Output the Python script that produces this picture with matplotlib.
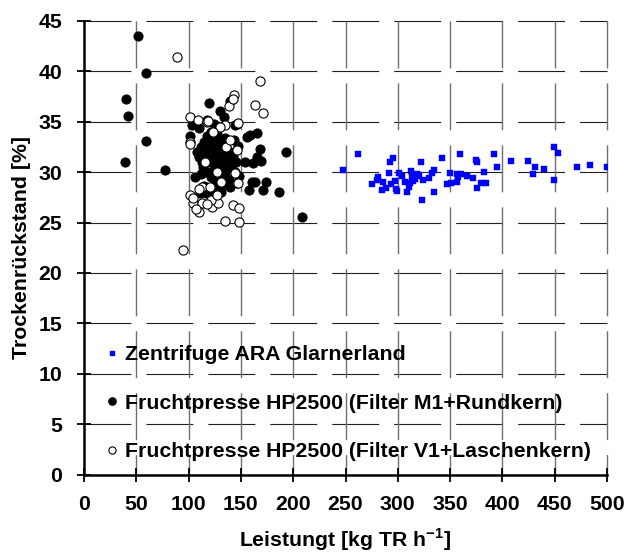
import matplotlib
matplotlib.use("Agg")
import matplotlib.pyplot as plt
from matplotlib.lines import Line2D

plt.rcParams['font.family'] = ['Liberation Sans', 'DejaVu Sans']
plt.rcParams['font.weight'] = 'bold'
plt.rcParams['mathtext.fontset'] = 'custom'
plt.rcParams['mathtext.rm'] = 'Liberation Sans:bold'
plt.rcParams['mathtext.bf'] = 'Liberation Sans:bold'
plt.rcParams['lines.scale_dashes'] = False

# ---- data ----
zentrifuge_x = [247.9, 262.3, 275.6, 280.7, 280.4, 285.2, 286.2, 288.7, 291.9, 292.5,
                295.7, 293.5, 297.3, 298.0, 299.6, 300.9, 303.7, 306.6, 308.5, 310.4,
                311.7, 312.9, 313.6, 314.8, 316.4, 318.0, 319.0, 320.0, 322.5, 323.4,
                324.4, 329.8, 332.7, 334.9, 334.9, 342.6, 346.7, 349.9, 350.9, 356.3,
                356.9, 357.9, 359.5, 360.1, 366.5, 372.2, 374.5, 376.0, 376.0, 379.5,
                382.4, 384.0, 392.3, 395.1, 408.5, 424.8, 429.3, 431.5, 439.8, 449.6,
                449.6, 453.5, 471.0, 483.7, 499.7]
zentrifuge_y = [30.19, 31.78, 28.87, 29.53, 29.26, 28.20, 29.07, 28.47, 29.96, 31.05,
                31.45, 28.80, 29.13, 28.37, 28.10, 29.92, 29.59, 29.03, 28.03, 28.53,
                28.97, 30.12, 29.53, 29.13, 29.36, 29.86, 29.59, 29.76, 31.05, 27.21,
                29.20, 29.46, 29.92, 30.26, 28.00, 31.45, 28.87, 29.96, 28.97, 29.86,
                29.07, 29.53, 31.85, 29.79, 29.59, 29.46, 31.18, 30.98, 28.47, 28.97,
                29.99, 28.97, 31.85, 30.49, 31.15, 31.15, 29.79, 30.49, 30.36, 32.50,
                29.26, 31.95, 30.49, 30.75, 30.49]

m1_x = [51.6, 59.6, 39.9, 41.7, 59.0, 39.2, 77.4,
        103.0, 101.3, 106.0, 111.0,
        119.5, 130.0, 134.2, 124.0, 144.4, 139.6, 146.0,
        155.5, 158.7, 165.0, 168.3, 165.0, 153.9, 161.9, 160.3, 163.5, 158.0, 171.4,
        174.0, 186.7, 193.1, 139.6, 208.0, 169.0, 116.6,
        108, 110, 112, 113, 114, 115, 116, 117, 118, 118, 119, 120, 121, 121, 122,
        123, 124, 124, 125, 126, 126, 127, 128, 128, 129, 130, 131, 132, 132, 133,
        134, 135, 135, 136, 137, 138, 139, 140, 141, 142, 143, 144, 145, 147, 148,
        112, 115, 120, 125, 128, 131, 134, 110, 118, 126]
m1_y = [43.5, 39.8, 37.3, 35.6, 33.1, 31.0, 30.2,
        34.7, 33.6, 29.5, 27.9,
        36.9, 36.1, 35.5, 34.8, 34.7, 37.1, 34.8,
        33.5, 33.7, 33.85, 32.3, 31.5, 31.0, 30.9, 29.0, 29.0, 28.2, 28.2,
        29.0, 28.0, 32.0, 28.5, 25.55, 31.1, 27.9,
        32.0, 31.5, 32.5, 31.0, 30.5, 33.0, 32.0, 31.2, 30.0, 33.6, 32.4, 31.0, 29.5, 34.0, 32.8,
        31.5, 30.2, 33.2, 32.0, 30.8, 29.0, 33.8, 31.6, 32.6, 30.0, 31.0, 33.0, 29.5, 32.2, 30.6,
        31.8, 29.8, 33.4, 32.4, 30.4, 31.2, 29.2, 32.0, 30.6, 31.6, 33.2, 30.0, 31.0, 32.6, 29.6,
        29.8, 28.6, 28.2, 27.6, 28.6, 28.0, 28.8, 34.4, 35.2, 34.6]

v1_x = [88.9, 168.0, 163.5, 170.8, 143.0, 139.0, 142.7,
        101.3, 109.3, 117.3, 134.8, 147.5, 130.0, 123.6,
        101.3, 101.3, 146.0, 144.4, 126.8, 146.6, 147.5,
        101.3, 104.5, 112.5, 110.2, 112.5, 110.0, 122.0, 128.4, 120.5, 121.1, 126.8,
        142.7, 148.5, 134.8, 148.5, 94.3, 118.8, 136.0, 116.0, 131.0, 140.0, 104.0,
        107.0, 118.0]
v1_y = [41.4, 39.0, 36.7, 35.9, 37.7, 36.6, 37.3,
        35.5, 35.2, 35.0, 34.7, 34.9, 34.5, 34.0,
        33.0, 32.8, 32.2, 29.9, 30.0, 28.9, 28.9,
        27.7, 26.9, 26.9, 26.05, 28.5, 28.3, 26.5, 26.9, 28.5, 27.2, 27.7,
        26.7, 26.4, 25.2, 25.05, 22.3, 35.1, 32.5, 31.0, 29.0, 33.2, 27.4,
        26.3, 26.8]

series_labels = ['Zentrifuge ARA Glarnerland',
                 'Fruchtpresse HP2500 (Filter M1+Rundkern)',
                 'Fruchtpresse HP2500 (Filter V1+Laschenkern)']
x_ticks = list(range(0, 501, 50))
y_ticks = list(range(0, 46, 5))

FS = 15.3

# ---- figure ----
W, H = 626, 558
L, R, T, B = 84, 607, 21, 474.5
fig = plt.figure(figsize=(W/100, H/100), dpi=100)
ax = fig.add_axes([L/W, 1 - B/H, (R-L)/W, (B-T)/H])
ax.set_xlim(0, 500)
ax.set_ylim(0, 45)

# dashed grid (horizontal from the left, vertical from the top)
for yv in y_ticks[1:]:
    ax.plot([0, 500], [yv, yv], color='#202020', lw=0.8,
            linestyle=(0, (33.8, 10.8)), zorder=1, clip_on=False)
for xv in x_ticks[1:]:
    ax.plot([xv, xv], [45, 0], color='#707070', lw=1.0,
            linestyle=(0, (33.8, 10.8)), zorder=1, clip_on=False)

ax.plot(zentrifuge_x, zentrifuge_y, linestyle='none', marker='s', ms=3.8,
        mfc='#0000ff', mec='#0000ff', mew=0.3, zorder=3)
ax.plot(m1_x, m1_y, linestyle='none', marker='o', ms=6.6,
        mfc='black', mec='black', mew=0.7, zorder=4)
ax.plot(v1_x, v1_y, linestyle='none', marker='o', ms=6.6,
        mfc='white', mec='black', mew=0.8, zorder=5)

for s in ['top', 'right']:
    ax.spines[s].set_visible(False)
for s in ['left', 'bottom']:
    ax.spines[s].set_linewidth(1.8)

ax.set_xticks(x_ticks)
ax.set_yticks(y_ticks)
ax.tick_params(direction='inout', length=9.4, width=1.3, labelsize=FS)
ax.tick_params(axis='y', pad=11)
ax.tick_params(axis='x', pad=10)
for lab in ax.get_xticklabels() + ax.get_yticklabels():
    lab.set_fontweight('bold')

ax.set_xlabel(r'Leistungt [kg TR h$^{\mathbf{-1}}$]', fontsize=FS, fontweight='bold')
ax.xaxis.set_label_coords(0.5, -(540 - B) / (B - T))
ax.xaxis.label.set_verticalalignment('center')
ax.set_ylabel('Trockenrückstand [%]', fontsize=FS, fontweight='bold')
ax.yaxis.set_label_coords(-(L - 22) / (R - L), 0.5)
ax.yaxis.label.set_verticalalignment('center')

handles = [Line2D([], [], linestyle='none', marker='s', ms=3.5, mfc='#0000ff', mec='#0000ff'),
           Line2D([], [], linestyle='none', marker='o', ms=5.2, mfc='black', mec='black'),
           Line2D([], [], linestyle='none', marker='o', ms=5.2, mfc='white', mec='black', mew=0.8)]
leg = ax.legend(handles, series_labels, loc='lower left',
                bbox_to_anchor=(0.0212, 0.011),
                frameon=False, prop={'weight': 'bold', 'size': FS},
                handlelength=0.8, handletextpad=0.23, labelspacing=1.38,
                borderaxespad=0.0, borderpad=0.4)

fig.savefig('out.png', dpi=100)
